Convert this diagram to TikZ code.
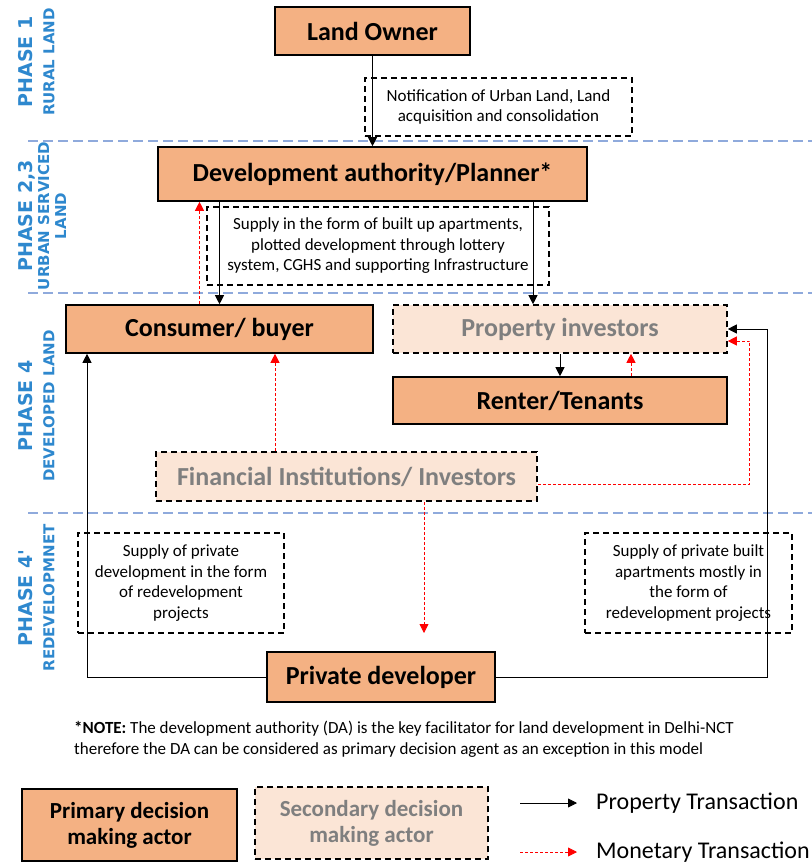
\documentclass[tikz,border=0pt]{standalone}
\usepackage{fontspec}
\setmainfont{Carlito}
\newfontfamily\phasefont{DejaVu Sans}
\usepackage{tikz}
\usetikzlibrary{arrows.meta,positioning}
\usepackage{xcolor}
\definecolor{prmorange}{RGB}{244,177,131}
\definecolor{seclight}{RGB}{251,229,214}
\definecolor{phaseblue}{RGB}{46,136,206}
\definecolor{sepblue}{RGB}{143,170,220}
\definecolor{txtgray}{RGB}{127,127,127}
\tikzstyle{primary} = [rectangle, draw=black, line width=1.6pt, fill=prmorange, inner sep=0pt, align=center, font=\fontsize{26}{30}\selectfont\bfseries]
\tikzstyle{secondary} = [rectangle, draw=black, line width=1.6pt, dash pattern=on 6pt off 4pt, fill=seclight, text=txtgray, inner sep=0pt, align=center, font=\fontsize{26}{30}\selectfont\bfseries]
\tikzstyle{infobox} = [rectangle, draw=black, line width=1.4pt, dash pattern=on 6pt off 4pt, inner sep=0pt, align=center, font=\fontsize{17}{20.5}\selectfont]
\tikzstyle{phase} = [rotate=90, align=center, text=phaseblue, inner sep=0pt, font=\phasefont\bfseries\fontsize{15}{22}\selectfont]
\tikzstyle{sepline} = [sepblue, line width=2.6pt, dash pattern=on 10pt off 5pt]
\tikzstyle{prop} = [-{Triangle[length=9pt,width=9pt]}, line width=0.8pt, black]
\tikzstyle{money} = [-{Triangle[length=9pt,width=9pt]}, line width=0.8pt, red, dash pattern=on 3pt off 2pt]
\begin{document}
\begin{tikzpicture}[x=1pt, y=-1pt]
\useasboundingbox (0,0) rectangle (812,863);

% Phase separators
\draw[sepline] (28,141) -- (812,141);
\draw[sepline] (28,293) -- (812,293);
\draw[sepline] (28,513) -- (812,513);

% Phase labels
\node (phaseone) [phase] at (36.5,62) {{\fontsize{19}{22}\selectfont PHASE 1}\\RURAL LAND};
\node (phasetwo) [phase] at (42,216) {{\fontsize{19}{22}\selectfont PHASE 2,3}\\[-5pt]URBAN SERVICED\\[-5pt]LAND};
\node (phasefour) [phase] at (36.5,406) {{\fontsize{19}{22}\selectfont PHASE 4}\\DEVELOPED LAND};
\node (phaseredev) [phase] at (36.5,598) {{\fontsize{19}{22}\selectfont PHASE 4'}\\REDEVELOPMNET};

% Actors
\node (owner) [primary, minimum width=195, minimum height=48] at (372.5,31) {Land Owner};
\node (da) [primary, minimum width=429, minimum height=54] at (372.5,174) {Development authority/Planner*};
\node (consumer) [primary, minimum width=307, minimum height=48] at (219.5,329) {Consumer/ buyer};
\node (invest) [secondary, minimum width=334, minimum height=48] at (560,329) {Property investors};
\node (renter) [primary, minimum width=334, minimum height=47] at (560,400.5) {Renter/Tenants};
\node (finance) [secondary, minimum width=381, minimum height=49] at (346.5,476.5) {Financial Institutions/ Investors};
\node (developer) [primary, minimum width=228, minimum height=50] at (381,677) {Private developer};

% Supply notes
\node (notif) [infobox, minimum width=267, minimum height=58] at (498.5,107) {Notification of Urban Land, Land\\acquisition and consolidation};
\node (supply) [infobox, minimum width=342, minimum height=78] at (378,246) {Supply in the form of built up apartments,\\plotted development through lottery\\system, CGHS and supporting Infrastructure};
\node (supplyleft) [infobox, minimum width=206, minimum height=100] at (181,583) {Supply of private\\development in the form\\of redevelopment\\projects};
\node (supplyright) [infobox, minimum width=207, minimum height=100] at (688.5,583) {Supply of private built\\apartments mostly in\\the form of\\redevelopment projects};

% Property flow
\draw[prop] (owner.south) -- (da.north);
\draw[prop] (da.south -| consumer.north) -- (consumer.north);
\draw[prop] ([xshift=-27pt]invest.north |- da.south) -- ([xshift=-27pt]invest.north);
\draw[prop] (invest.south) -- (renter.north);
\draw[prop] (developer.west) -| ([xshift=-132.5pt]consumer.south);
\draw[prop] (developer.east) -- ++(272,0) |- (invest.east);

% Money flow
\coordinate (fundend) at (424,633);
\draw[money] ([xshift=-20pt]consumer.north) -- ([xshift=-20pt]consumer.north |- da.south);
\draw[money] ([xshift=71pt]renter.north) -- ([xshift=71pt]invest.south);
\draw[money] ([xshift=55.5pt]consumer.south |- finance.north) -- ([xshift=55.5pt]consumer.south);
\draw[money] ([yshift=-7.5pt]finance.east) -- ++(212,0) |- ([yshift=-12pt]invest.east);
\draw[money] (finance.south -| fundend) -- (fundend);

% Note
\node (note) [anchor=west, align=left, inner sep=0pt, font=\fontsize{17}{21}\selectfont] at (74,739.5) {\textbf{*NOTE:} The development authority (DA) is the key facilitator for land development in Delhi-NCT\\therefore the DA can be considered as primary decision agent as an exception in this model};

% Legend
\node (legprim) [primary, minimum width=215, minimum height=72, font=\fontsize{23}{26}\selectfont\bfseries] at (129.5,825) {Primary decision\\making actor};
\node (legsec) [secondary, minimum width=233, minimum height=72, font=\fontsize{23}{26}\selectfont\bfseries] at (371.5,823) {Secondary decision\\making actor};
\node (proptxt) [anchor=west, inner sep=0pt, font=\fontsize{24}{28}\selectfont] at (596,803) {Property Transaction};
\node (montxt) [anchor=west, inner sep=0pt, font=\fontsize{24}{28}\selectfont] at (596,852) {Monetary Transaction};
\coordinate (propstart) at (520,803);
\coordinate (monstart) at (520,852);
\draw[prop] (propstart) -- ([xshift=-19pt]proptxt.west);
\draw[money] (monstart) -- ([xshift=-19pt]montxt.west);
\end{tikzpicture}
\end{document}
